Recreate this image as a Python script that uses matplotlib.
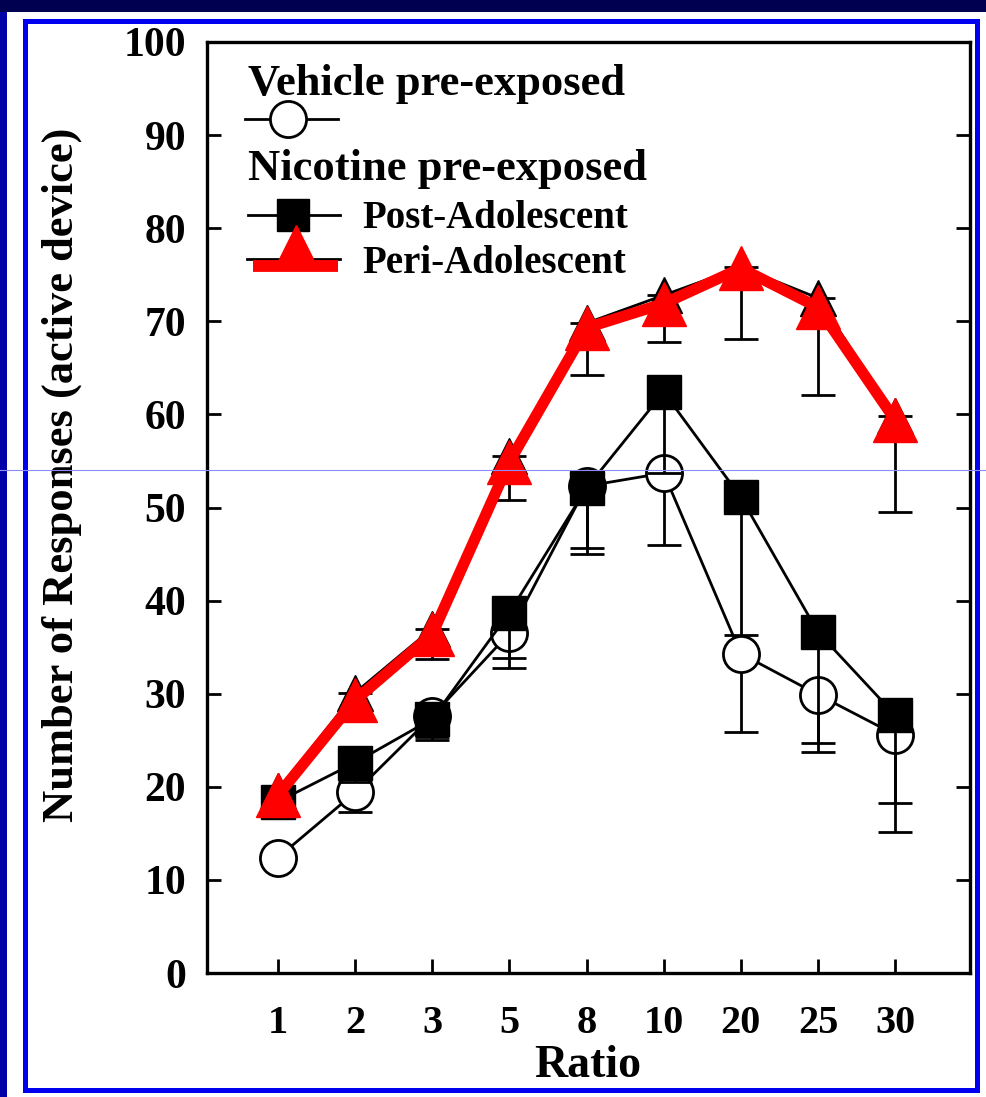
import numpy as np
import matplotlib
matplotlib.use("Agg")
import matplotlib.pyplot as plt
from matplotlib.patches import Rectangle
from matplotlib.lines import Line2D

# ---------------- data ----------------
ratios = ["1", "2", "3", "5", "8", "10", "20", "25", "30"]
vehicle = [12.4, 19.4, 27.6, 36.5, 52.3, 53.7, 34.3, 29.9, 25.6]
vehicle_err = [0.5, 2.1, 2.3, 2.7, 6.7, 7.7, 8.4, 5.2, 10.5]
post_adol = [18.4, 22.6, 27.3, 38.7, 52.1, 62.4, 51.1, 36.6, 27.7]
post_adol_err = [1.0, 2.1, 2.3, 5.9, 7.1, 8.7, 14.8, 12.9, 9.4]
peri_adol = [19.6, 30.1, 37.0, 55.5, 69.8, 72.8, 75.8, 72.5, 59.8]
peri_adol_err = [1.5, 2.7, 3.3, 4.7, 5.6, 5.0, 7.7, 10.4, 10.3]
peri_adol_red = [19.1, 29.3, 36.4, 54.9, 69.3, 71.9, 75.7, 71.5, 59.4]
yticks = [0, 10, 20, 30, 40, 50, 60, 70, 80, 90, 100]

W, H = 987, 1097
fig = plt.figure(figsize=(W / 100, H / 100), dpi=100, facecolor="white")

def fx(px):
    return px / W

def fy(py):
    return 1 - py / H

# background frame
fig.patches.append(Rectangle((0, fy(H)), fx(7), 1, transform=fig.transFigure,
                             facecolor="#0000a8", edgecolor="none", zorder=0))
fig.patches.append(Rectangle((0, fy(12)), 1, fy(0) - fy(12), transform=fig.transFigure,
                             facecolor="#000050", edgecolor="none", zorder=0))
fig.patches.append(Rectangle((fx(25.5), fy(1090)), fx(977.5) - fx(25.5), fy(20.5) - fy(1090),
                             transform=fig.transFigure, facecolor="none",
                             edgecolor="#0000f0", linewidth=3.6, zorder=1))

ax = fig.add_axes([fx(207), fy(973), fx(970) - fx(207), fy(42) - fy(973)])
ax.set_facecolor("white")

x = np.arange(len(ratios))
zeros = np.zeros(len(ratios))
font = "Liberation Serif"

# Vehicle (open circles)
ax.errorbar(x, vehicle, yerr=[vehicle_err, zeros], fmt="none", ecolor="black",
            elinewidth=2.0, capsize=12, capthick=2.0, zorder=2)
ax.plot(x, vehicle, color="black", lw=2.0, marker="o", ms=26, mfc="white",
        mec="black", mew=2.0, zorder=3)

# Post-adolescent (filled squares)
ax.plot(x, post_adol, color="black", lw=2.0, marker="s", ms=24, mfc="black",
        mec="black", zorder=4)
ax.errorbar(x, post_adol, yerr=[post_adol_err, zeros], fmt="none", ecolor="black",
            elinewidth=2.0, capsize=12, capthick=2.0, zorder=4.5)

# Peri-adolescent (black triangles underneath)
ax.errorbar(x, peri_adol, yerr=[peri_adol_err, zeros], fmt="none", ecolor="black",
            elinewidth=2.0, capsize=12, capthick=2.0, zorder=5)
ax.plot(x, peri_adol, color="black", lw=2.0, marker="^", ms=26, mfc="black",
        mec="black", zorder=5)

# Red overlay
ax.plot(x, peri_adol_red, color="#ff0000", lw=8, marker="^", ms=32,
        mfc="#ff0000", mec="#ff0000", zorder=6, solid_joinstyle="miter")

ax.set_xlim(-0.92, 8.97)
ax.set_ylim(0, 100)
ax.set_xticks(x)
ax.set_xticklabels(ratios)
ax.set_yticks(yticks)

for s in ax.spines.values():
    s.set_linewidth(2.4)
    s.set_color("black")

ax.tick_params(axis="x", direction="in", length=10, width=2, pad=23, top=False,
               labelsize=29)
ax.tick_params(axis="y", direction="in", length=10, width=2, pad=15, right=True,
               labelsize=30)
for lab in ax.get_xticklabels() + ax.get_yticklabels():
    lab.set_fontfamily(font)
    lab.set_fontweight("bold")

# axis titles placed by their centres
fig.text(fx(62), fy(475), "Number of Responses (active device)", fontfamily=font,
         fontweight="bold", fontsize=32, rotation=90, ha="center", va="center")
fig.text(fx(588), fy(1066), "Ratio", fontfamily=font, fontweight="bold",
         fontsize=33, ha="center", va="center")

# ---------------- legend (drawn manually) ----------------
def axx(px):
    return (px - 207) / 763

def axy(py):
    return (973 - py) / 931

T = ax.transAxes
ax.text(axx(248), axy(95), "Vehicle pre-exposed", transform=T, fontfamily=font,
        fontweight="bold", fontsize=32, va="baseline", ha="left")
ax.add_line(Line2D([axx(245), axx(338)], [axy(119), axy(119)], transform=T,
                   color="black", lw=2.0, zorder=7))
ax.add_line(Line2D([axx(288)], [axy(119)], transform=T, marker="o", ms=26,
                   mfc="white", mec="black", mew=2.0, lw=0, zorder=8))

ax.text(axx(248), axy(180), "Nicotine pre-exposed", transform=T, fontfamily=font,
        fontweight="bold", fontsize=32, va="baseline", ha="left")
ax.add_line(Line2D([axx(248), axx(340)], [axy(215), axy(215)], transform=T,
                   color="black", lw=2.0, zorder=7))
ax.add_line(Line2D([axx(293)], [axy(215)], transform=T, marker="s", ms=23,
                   mfc="black", mec="black", lw=0, zorder=8))
ax.text(axx(362), axy(228), "Post-Adolescent", transform=T, fontfamily=font,
        fontweight="bold", fontsize=28, va="baseline", ha="left")

ax.add_line(Line2D([axx(247), axx(340)], [axy(259), axy(259)], transform=T,
                   color="black", lw=2.0, zorder=7))
ax.add_line(Line2D([axx(253), axx(338)], [axy(266), axy(266)], transform=T,
                   color="#ff0000", lw=8.5, solid_capstyle="butt", zorder=8))
ax.add_line(Line2D([axx(296)], [axy(243.5)], transform=T, marker="^", ms=27,
                   mfc="#ff0000", mec="#ff0000", lw=0, zorder=9))
ax.text(axx(362), axy(273), "Peri-Adolescent", transform=T, fontfamily=font,
        fontweight="bold", fontsize=28, va="baseline", ha="left")

# faint scan artifact line across the picture
fig.add_artist(Line2D([0, 1], [fy(470), fy(470)], transform=fig.transFigure,
                      color="#8c8cff", lw=0.8, zorder=20))

fig.savefig("out.png", dpi=100, facecolor="white")
